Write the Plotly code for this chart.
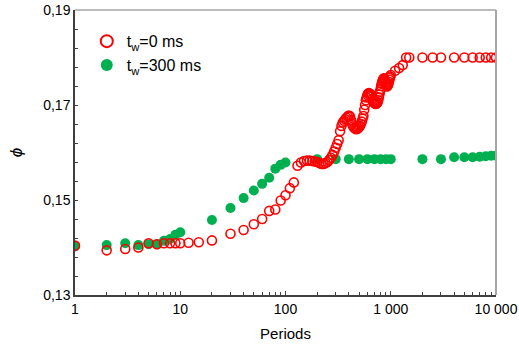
import plotly.graph_objects as go

# ---- data ----
green_periods = [1, 2, 3, 4, 5, 6, 7, 8, 9, 10, 20, 30, 40, 50, 60, 70, 80, 90, 100,
                 200, 300, 400, 500, 600, 700, 800, 900, 1000,
                 2000, 3000, 4000, 5000, 6000, 7000, 8000, 9000, 10000]
green_phi = [0.1402, 0.1405, 0.1409, 0.1405, 0.1407, 0.1407, 0.1414, 0.1418, 0.1427, 0.1432,
             0.1458, 0.1483, 0.1504, 0.1520, 0.1534, 0.1547, 0.1566, 0.1574, 0.1579,
             0.1586, 0.1586, 0.1586, 0.1586, 0.1586, 0.1586, 0.1586, 0.1586, 0.1586,
             0.1586, 0.1586, 0.1590, 0.1590, 0.1590, 0.1591, 0.1592, 0.1593, 0.1593]

red_periods = [1, 2, 3, 4, 5, 6, 7, 8, 9, 10, 12, 15, 20, 30, 40, 50, 60, 70, 80, 90,
               100, 110, 120, 130, 140, 150, 160, 170, 180, 190,
               200, 210, 220, 230, 240, 250, 260, 270, 280, 290,
               300, 310, 320, 330, 340, 350, 360, 370, 380, 390,
               400, 410, 420, 430, 440, 450, 460, 470, 480, 490,
               500, 510, 520, 530, 540, 550, 560, 570, 580, 590,
               600, 610, 620, 630, 640, 650, 660, 670, 680, 690,
               700, 710, 720, 730, 740, 750, 760, 770, 780, 790,
               800, 810, 820, 830, 840, 850, 860, 870, 880, 890,
               900, 910, 920, 930, 940, 950, 960, 970, 980, 990,
               1000, 1100, 1200, 1300, 1400, 1500,
               2000, 2500, 3000, 4000, 5000, 6000, 7000, 8000, 9000, 10000]
red_phi = [0.1404, 0.1394, 0.1397, 0.1400, 0.1409, 0.1407, 0.1409, 0.1409, 0.1409, 0.1409,
           0.1410, 0.1411, 0.1415, 0.1429, 0.1437, 0.1449, 0.1460, 0.1477, 0.1480, 0.1499,
           0.1510, 0.1525, 0.1537, 0.1572, 0.1579, 0.1582, 0.1583, 0.1583, 0.1582, 0.1581,
           0.1580, 0.1578, 0.1576, 0.1576, 0.1578, 0.1580, 0.1584, 0.1589, 0.1595, 0.1602,
           0.1610, 0.1618, 0.1626, 0.1645, 0.1656, 0.1663, 0.1667, 0.1670, 0.1673, 0.1676,
           0.1678, 0.1676, 0.1668, 0.1660, 0.1655, 0.1652, 0.1650, 0.1649, 0.1650, 0.1651,
           0.1653, 0.1656, 0.1660, 0.1665, 0.1671, 0.1677, 0.1690, 0.1700, 0.1710, 0.1716,
           0.1721, 0.1724, 0.1725, 0.1724, 0.1723, 0.1721, 0.1718, 0.1713, 0.1709, 0.1706,
           0.1704, 0.1703, 0.1702, 0.1703, 0.1704, 0.1706, 0.1710, 0.1716, 0.1722, 0.1728,
           0.1733, 0.1740, 0.1745, 0.1749, 0.1752, 0.1755, 0.1756, 0.1755, 0.1752, 0.1748,
           0.1744, 0.1741, 0.1739, 0.1740, 0.1742, 0.1745, 0.1749, 0.1753, 0.1757, 0.1760,
           0.1763, 0.1772, 0.1778, 0.1784, 0.1800, 0.1800,
           0.1800, 0.1800, 0.1800, 0.1800, 0.1800, 0.1800, 0.1800, 0.1800, 0.1800, 0.1800]

y_tick_vals = [0.13, 0.15, 0.17, 0.19]
y_tick_text = ["0,13", "0,15", "0,17", "0,19"]
x_tick_vals = [1, 10, 100, 1000, 10000]
x_tick_text = ["1", "10", "100", "1 000", "10 000"]

RED = "#ff0000"
GREEN = "#00b050"
FONT = "Liberation Sans, Arial, sans-serif"

fig = go.Figure()
fig.add_trace(go.Scatter(
    x=green_periods, y=green_phi, mode="markers", name="t<sub>w</sub>=300 ms",
    marker=dict(symbol="circle", size=10, color=GREEN, line=dict(width=0)),
))
fig.add_trace(go.Scatter(
    x=red_periods, y=red_phi, mode="markers", name="t<sub>w</sub>=0 ms",
    marker=dict(symbol="circle-open", size=9, color=RED, line=dict(width=1.6, color=RED)),
))

fig.update_layout(
    width=519, height=347,
    margin=dict(l=75, r=23, t=10, b=52),
    paper_bgcolor="white", plot_bgcolor="white",
    font=dict(family=FONT, size=14, color="black"),
    showlegend=True,
    legend=dict(x=0.028, y=0.95, xanchor="left", yanchor="top",
                traceorder="reversed", bgcolor="rgba(0,0,0,0)",
                font=dict(size=16), itemsizing="constant", tracegroupgap=0),
    xaxis=dict(
        type="log", range=[0, 4], showgrid=False, zeroline=False, automargin=False,
        showline=True, linecolor="#404040", linewidth=1.5,
        tickvals=x_tick_vals, ticktext=x_tick_text,
        ticks="inside", ticklen=4, tickcolor="#404040", tickwidth=1,
        minor=dict(ticks="inside", ticklen=3, tickcolor="#404040", tickwidth=1,
                   dtick="D1", showgrid=False),
        title=dict(text="Periods", standoff=13, font=dict(size=15)),
        tickfont=dict(size=14),
    ),
    yaxis=dict(
        range=[0.13, 0.19], showgrid=False, zeroline=False, automargin=False,
        showline=True, linecolor="#404040", linewidth=1.5,
        tickvals=y_tick_vals, ticktext=y_tick_text,
        ticks="inside", ticklen=3, tickcolor="#404040", tickwidth=1,
        minor=dict(ticks="inside", ticklen=3, tickcolor="#404040", tickwidth=1,
                   tick0=0.13, dtick=0.004, showgrid=False),
        title=dict(text="<i>ϕ</i>", standoff=16, font=dict(size=17)),
        tickfont=dict(size=14),
    ),
    shapes=[
        dict(type="line", xref="paper", yref="paper", x0=0, x1=1, y0=1, y1=1,
             line=dict(color="#a6a6a6", width=1.5)),
        dict(type="line", xref="paper", yref="paper", x0=1, x1=1, y0=0, y1=1,
             line=dict(color="#a6a6a6", width=2)),
    ],
)

fig.write_html("out.html", config={"displayModeBar": False},
               post_script="document.body.style.margin='0';")
